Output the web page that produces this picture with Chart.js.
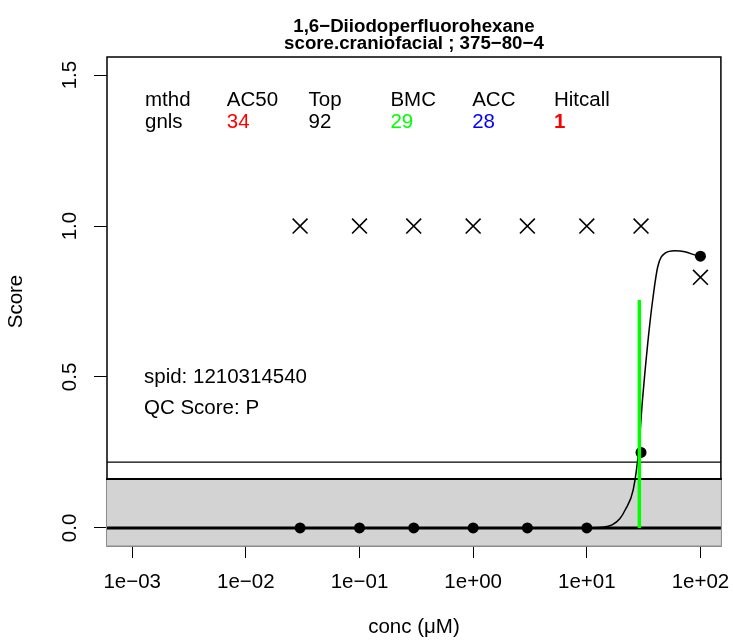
<!DOCTYPE html>
<html>
<head>
<meta charset="utf-8">
<script src="https://cdn.jsdelivr.net/npm/chart.js@4.4.1/dist/chart.umd.min.js"></script>
<style>
body { margin: 0; background: #fff; }
canvas { display: block; }
</style>
</head>
<body>
<canvas id="graph" width="733" height="642"></canvas>
<script>
// Données
const concs = [0.03, 0.1, 0.3, 1, 3, 10, 30, 100];
const scores = [0, 0, 0, 0, 0, 0, 0.25, 0.9];
const crossScores = [1, 1, 1, 1, 1, 1, 1, 0.83];

// courbe ajustée (gnls), relevée point par point
const curveConc = [0.03, 10, 13.6, 16.7, 19.5, 21.8, 25.6, 28.5, 30.9, 34.4, 38, 42.1, 48.8, 59.6, 72.9, 95, 100];
const curveScore = [0, 0, 0.002, 0.01, 0.03, 0.06, 0.126, 0.25, 0.424, 0.613, 0.755, 0.865, 0.91, 0.918, 0.915, 0.901, 0.9];

const bmc = 29;
const bmcTop = 0.755;
const cutoff = 0.162;
const upperLine = 0.218;

const xTicks = [0.001, 0.01, 0.1, 1, 10, 100];
const yTicks = [0, 0.5, 1, 1.5];

const titleLines = ["1,6−Diiodoperfluorohexane", "score.craniofacial ; 375−80−4"];
const tableHeaders = ["mthd", "AC50", "Top", "BMC", "ACC", "Hitcall"];
const tableValues = ["gnls", "34", "92", "29", "28", "1"];
const tableColors = ["#000000", "#FF0000", "#000000", "#00FF00", "#0000FF", "#FF0000"];
const infoLines = ["spid: 1210314540", "QC Score: P"];

const FONT = '"Liberation Sans", Arial, sans-serif';
Chart.defaults.font.family = FONT;
Chart.defaults.color = "#000";

function fmtExp(v) {
    const e = Math.round(Math.log10(v));
    return "1e" + (e < 0 ? "−" : "+") + String(Math.abs(e)).padStart(2, "0");
}

// cadre, bande grise et lignes horizontales
const decor = {
    id: "decor",
    beforeDatasetsDraw(chart) {
        const { ctx, chartArea: a, scales: { y } } = chart;
        ctx.save();
        ctx.fillStyle = "#fff";
        ctx.fillRect(a.left, a.top, a.width, a.height);
        ctx.strokeStyle = "#000";
        ctx.lineWidth = 1.5;
        ctx.strokeRect(a.left, a.top, a.width, a.height);

        const yc = y.getPixelForValue(cutoff);
        ctx.fillStyle = "#D3D3D3";
        ctx.fillRect(a.left - 1, yc, a.width + 2, a.bottom - yc + 0.5);
        ctx.strokeStyle = "#8c8c8c";
        ctx.lineWidth = 1;
        ctx.strokeRect(a.left - 0.5, yc, a.width + 1, a.bottom - yc);

        ctx.strokeStyle = "#000";
        ctx.lineWidth = 1.8;
        ctx.beginPath();
        ctx.moveTo(a.left - 1, yc);
        ctx.lineTo(a.right + 1, yc);
        ctx.stroke();

        const yu = y.getPixelForValue(upperLine);
        ctx.lineWidth = 1.2;
        ctx.beginPath();
        ctx.moveTo(a.left, yu);
        ctx.lineTo(a.right, yu);
        ctx.stroke();

        const y0 = y.getPixelForValue(0);
        ctx.lineWidth = 3;
        ctx.beginPath();
        ctx.moveTo(a.left, y0);
        ctx.lineTo(a.right, y0);
        ctx.stroke();
        ctx.restore();
    },
    afterDraw(chart) {
        const { ctx, chartArea: a } = chart;
        ctx.save();
        ctx.textBaseline = "alphabetic";
        ctx.textAlign = "left";
        tableHeaders.forEach((h, i) => {
            const x = a.left + 38 + i * 81.8;
            ctx.font = "20.5px " + FONT;
            ctx.fillStyle = "#000";
            ctx.fillText(h, x, a.top + 48.5);
            ctx.font = (i === 5 ? "bold " : "") + "20.5px " + FONT;
            ctx.fillStyle = tableColors[i];
            ctx.fillText(tableValues[i], x, a.top + 71);
        });
        ctx.font = "20.5px " + FONT;
        ctx.fillStyle = "#000";
        ctx.fillText(infoLines[0], a.left + 37, a.top + 326);
        ctx.fillText(infoLines[1], a.left + 37, a.top + 357);
        ctx.restore();
    }
};

const ctx = document.getElementById("graph");

new Chart(ctx, {
    type: "scatter",
    data: {
        datasets: [
            {
                label: "BMC",
                data: [{ x: bmc, y: 0 }, { x: bmc, y: bmcTop }],
                showLine: true,
                borderColor: "#00FF00",
                borderWidth: 3.5,
                pointRadius: 0
            },
            {
                label: "fit",
                data: curveConc.map((c, i) => ({ x: c, y: curveScore[i] })),
                showLine: true,
                borderColor: "#000",
                borderWidth: 1.5,
                pointRadius: 0,
                cubicInterpolationMode: "monotone"
            },
            {
                label: "max",
                data: concs.map((c, i) => ({ x: c, y: crossScores[i] })),
                pointStyle: "crossRot",
                pointRadius: 10.5,
                borderColor: "#000",
                pointBorderWidth: 1.6
            },
            {
                label: "resp",
                data: concs.map((c, i) => ({ x: c, y: scores[i] })),
                pointRadius: 5.5,
                backgroundColor: "#000",
                borderColor: "#000",
                pointBorderWidth: 0
            }
        ]
    },
    options: {
        responsive: false,
        animation: false,
        devicePixelRatio: 1,
        layout: { padding: { top: 0, right: 10, bottom: 0, left: 0 } },
        plugins: {
            legend: { display: false },
            tooltip: { enabled: false },
            title: {
                display: true,
                text: titleLines,
                fullSize: false,
                color: "#000",
                font: { size: 18.7, weight: "bold", lineHeight: "17px" },
                padding: { top: 18.5, bottom: 4.5 }
            }
        },
        scales: {
            x: {
                type: "logarithmic",
                min: Math.pow(10, -3.2),
                max: Math.pow(10, 2.18),
                afterBuildTicks: s => { s.ticks = xTicks.map(v => ({ value: v })); },
                afterFit: s => { s.height = 96; s.paddingLeft = 0; s.paddingRight = 0; },
                ticks: {
                    callback: v => fmtExp(v),
                    font: { size: 20.5 },
                    color: "#000",
                    padding: 12,
                    maxRotation: 0,
                    autoSkip: false
                },
                grid: { drawOnChartArea: false, drawTicks: true, tickLength: 12, color: "#000", lineWidth: 1 },
                border: { display: false },
                title: {
                    display: true,
                    text: "conc (μM)",
                    font: { size: 20.5 },
                    color: "#000",
                    padding: { top: 0, bottom: 2.7 }
                }
            },
            y: {
                min: -0.06,
                max: 1.56,
                afterBuildTicks: s => { s.ticks = yTicks.map(v => ({ value: v })); },
                afterFit: s => { s.width = 107; s.paddingTop = 0; s.paddingBottom = 0; },
                ticks: {
                    callback: v => Number(v).toFixed(1),
                    font: { size: 20.5 },
                    color: "#000",
                    padding: 9,
                    minRotation: 90,
                    maxRotation: 90,
                    crossAlign: "center",
                    autoSkip: false
                },
                grid: { drawOnChartArea: false, drawTicks: true, tickLength: 13, color: "#000", lineWidth: 1 },
                border: { display: false },
                title: {
                    display: true,
                    text: "Score",
                    font: { size: 20.5 },
                    color: "#000",
                    padding: { top: 4, bottom: 0 }
                }
            }
        }
    },
    plugins: [decor]
});
</script>
</body>
</html>
